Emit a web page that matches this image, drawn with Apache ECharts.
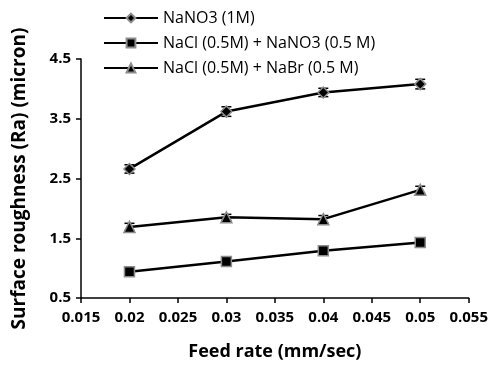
<!DOCTYPE html>
<html>
<head>
<meta charset="utf-8">
<script src="https://cdn.jsdelivr.net/npm/echarts@6/dist/echarts.min.js"></script>
<style>
  html, body { margin: 0; padding: 0; background: #fff; }
  #chart { width: 491px; height: 370px; }
</style>
</head>
<body>
<div id="chart"></div>
<script>
// feed rate values (mm/sec)
const feedRate = [0.02, 0.03, 0.04, 0.05];

// Ra values
const nano3 = [2.66, 3.62, 3.94, 4.08];
const naclNano3 = [0.94, 1.11, 1.29, 1.43];
const naclNabr = [1.69, 1.85, 1.82, 2.31];

// error bar half heights
const nano3Err = [0.07, 0.08, 0.07, 0.08];
const naclNano3Err = [0.03, 0.03, 0.03, 0.03];
const naclNabrErr = [0.06, 0.05, 0.06, 0.06];

const seriesNames = ['NaNO3 (1M)', 'NaCl (0.5M) + NaNO3 (0.5 M)', 'NaCl (0.5M) + NaBr (0.5 M)'];

const font = 'Open Sans, Liberation Sans, sans-serif';

function pairs(ys) {
  return ys.map((y, i) => [feedRate[i], y]);
}

function errorSeries(ys, errs) {
  return {
    type: 'custom',
    silent: true,
    z: 1,
    data: ys.map((y, i) => [feedRate[i], y - errs[i], y + errs[i]]),
    renderItem: function (params, api) {
      const lo = api.coord([api.value(0), api.value(1)]);
      const hi = api.coord([api.value(0), api.value(2)]);
      const w = 5;
      const st = { stroke: '#000', lineWidth: 1.5 };
      return {
        type: 'group',
        children: [
          { type: 'line', shape: { x1: lo[0], y1: lo[1], x2: hi[0], y2: hi[1] }, style: st },
          { type: 'line', shape: { x1: lo[0] - w, y1: lo[1], x2: lo[0] + w, y2: lo[1] }, style: st },
          { type: 'line', shape: { x1: hi[0] - w, y1: hi[1], x2: hi[0] + w, y2: hi[1] }, style: st }
        ]
      };
    }
  };
}

function lineSeries(name, ys, symbol, size) {
  return {
    name: name,
    type: 'line',
    data: pairs(ys),
    symbol: symbol,
    symbolSize: size,
    z: 3,
    lineStyle: { color: '#000', width: 2.5 },
    itemStyle: { color: '#000', borderColor: '#8c8c8c', borderWidth: 1.5 }
  };
}

const chart = echarts.init(document.getElementById('chart'));
chart.setOption({
  animation: false,
  textStyle: { fontFamily: font },
  grid: { left: 81, right: 22, top: 59, bottom: 72 },
  legend: {
    orient: 'vertical',
    left: 98,
    top: 5,
    itemWidth: 54,
    itemHeight: 11,
    itemGap: 9,
    textStyle: { fontSize: 16, color: '#000', fontFamily: font },
    data: seriesNames
  },
  xAxis: {
    type: 'value',
    min: 0.015,
    max: 0.055,
    interval: 0.005,
    name: 'Feed rate (mm/sec)',
    nameLocation: 'middle',
    nameGap: 45,
    nameTextStyle: { fontSize: 18, fontWeight: 'bold', color: '#000' },
    axisLine: { lineStyle: { color: '#000', width: 1.5 } },
    axisTick: { show: true, length: 5, lineStyle: { color: '#000', width: 1.5 } },
    axisLabel: {
      fontSize: 15, fontWeight: 'bold', color: '#000', margin: 12,
      formatter: v => String(parseFloat(v.toFixed(3)))
    },
    splitLine: { show: false }
  },
  yAxis: {
    type: 'value',
    min: 0.5,
    max: 4.5,
    interval: 1,
    name: 'Surface roughness (Ra) (micron)',
    nameLocation: 'middle',
    nameGap: 52,
    nameTextStyle: { fontSize: 19, fontWeight: 'bold', color: '#000' },
    axisLine: { show: true, lineStyle: { color: '#000', width: 1.5 } },
    axisTick: { show: true, length: 5, lineStyle: { color: '#000', width: 1.5 } },
    axisLabel: {
      fontSize: 15, fontWeight: 'bold', color: '#000', margin: 10,
      formatter: v => v.toFixed(1)
    },
    splitLine: { show: false }
  },
  series: [
    lineSeries(seriesNames[0], nano3, 'diamond', 11),
    lineSeries(seriesNames[1], naclNano3, 'rect', 10),
    lineSeries(seriesNames[2], naclNabr, 'triangle', 11),
    errorSeries(nano3, nano3Err),
    errorSeries(naclNano3, naclNano3Err),
    errorSeries(naclNabr, naclNabrErr)
  ]
});
</script>
</body>
</html>
